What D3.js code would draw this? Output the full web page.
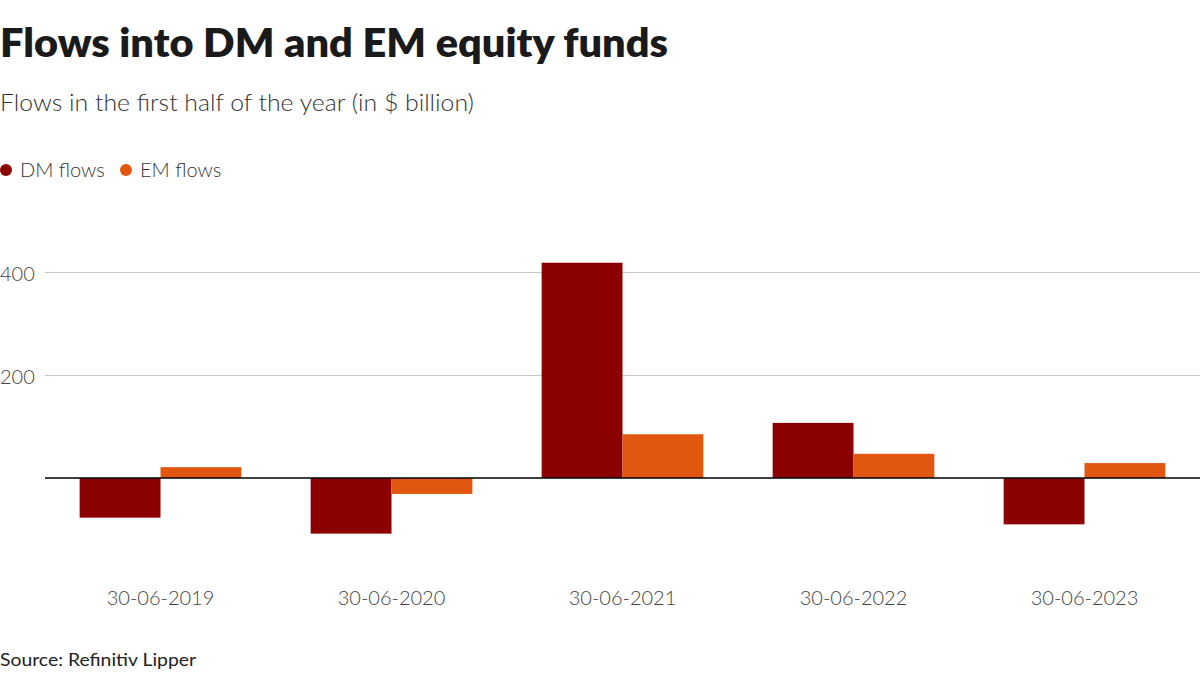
<!DOCTYPE html>
<html><head><meta charset="utf-8">
<script src="https://cdn.jsdelivr.net/npm/d3@7"></script>
<style>
body{margin:0;background:#fff;}
svg{display:block;font-family:"Lato","Open Sans",sans-serif;}
</style></head>
<body><svg id="c" width="1200" height="676"></svg>
<script>
const categories = ["30-06-2019","30-06-2020","30-06-2021","30-06-2022","30-06-2023"];
const seriesNames = ["DM flows","EM flows"];
const dmValues = [-77, -108, 418, 107, -90];
const emValues = [21, -31, 85, 47, 29];
const yTicks = [200, 400];
const colors = ["#8b0000", "#e2570f"];

const svg = d3.select("#c");
const data = categories.map((c,i)=>({cat:c, values:[dmValues[i], emValues[i]]}));

const x = d3.scaleBand().domain(categories).range([45,1200]).paddingInner(0.3).paddingOuter(0.15);
const x1 = d3.scaleBand().domain(seriesNames).range([0,x.bandwidth()]);
const y = d3.scaleLinear().domain([-200,450]).range([581,246.25]);

// title
svg.append("text").attr("x",0).attr("y",57).attr("font-size",40).attr("font-weight",800)
  .attr("fill","#1a1a1a").attr("textLength",668).attr("lengthAdjust","spacingAndGlyphs")
  .text("Flows into DM and EM equity funds");
svg.append("text").attr("x",0).attr("y",111).attr("font-size",23).attr("font-weight",300)
  .attr("fill","#333").attr("textLength",474).attr("lengthAdjust","spacingAndGlyphs")
  .text("Flows in the first half of the year (in $ billion)");

// legend
const leg = svg.append("g");
const legX = [0,120];
seriesNames.forEach((s,i)=>{
  leg.append("circle").attr("cx",legX[i]+6).attr("cy",170).attr("r",6).attr("fill",colors[i]);
  leg.append("text").attr("x",legX[i]+20).attr("y",177).attr("font-size",20).attr("font-weight",300)
    .attr("fill","#333").text(s);
});

// grid
const yAxis = d3.axisLeft(y).tickValues(yTicks).tickSize(-1155).tickFormat(d3.format("d"));
const gy = svg.append("g").attr("transform","translate(45,0)").call(yAxis);
gy.select(".domain").remove();
gy.selectAll(".tick line").attr("stroke","#c8c8c8").attr("stroke-width",1.2);
gy.selectAll(".tick text").attr("x",-45).attr("dy","0.4em").attr("text-anchor","start").attr("font-size",20)
  .attr("font-weight",300).attr("fill","#444").attr("font-family","Lato, sans-serif");

// bars
const g = svg.append("g");
g.selectAll("g.grp").data(data).join("g").attr("class","grp")
  .attr("transform",d=>`translate(${x(d.cat)},0)`)
  .selectAll("rect").data(d=>d.values.map((v,i)=>({v,i}))).join("rect")
  .attr("x",d=>x1(seriesNames[d.i])).attr("width",x1.bandwidth())
  .attr("y",d=>Math.min(y(0),y(d.v))).attr("height",d=>Math.abs(y(d.v)-y(0)))
  .attr("fill",d=>colors[d.i]);

// baseline
svg.append("line").attr("x1",45).attr("x2",1200).attr("y1",y(0)).attr("y2",y(0))
  .attr("stroke","#000").attr("stroke-width",1.5);

// x axis labels
const xAxis = d3.axisBottom(x).tickSize(0).tickPadding(0);
const gx = svg.append("g").attr("transform","translate(0,605)").call(xAxis);
gx.select(".domain").remove();
gx.selectAll(".tick text").attr("font-size",20).attr("font-weight",300).attr("fill","#444")
  .attr("dy",0).attr("font-family","Lato, sans-serif");

// source
svg.append("text").attr("x",0).attr("y",666).attr("font-size",18).attr("fill","#222")
  .attr("textLength",196).attr("lengthAdjust","spacingAndGlyphs")
  .text("Source: Refinitiv Lipper");
</script></body></html>
